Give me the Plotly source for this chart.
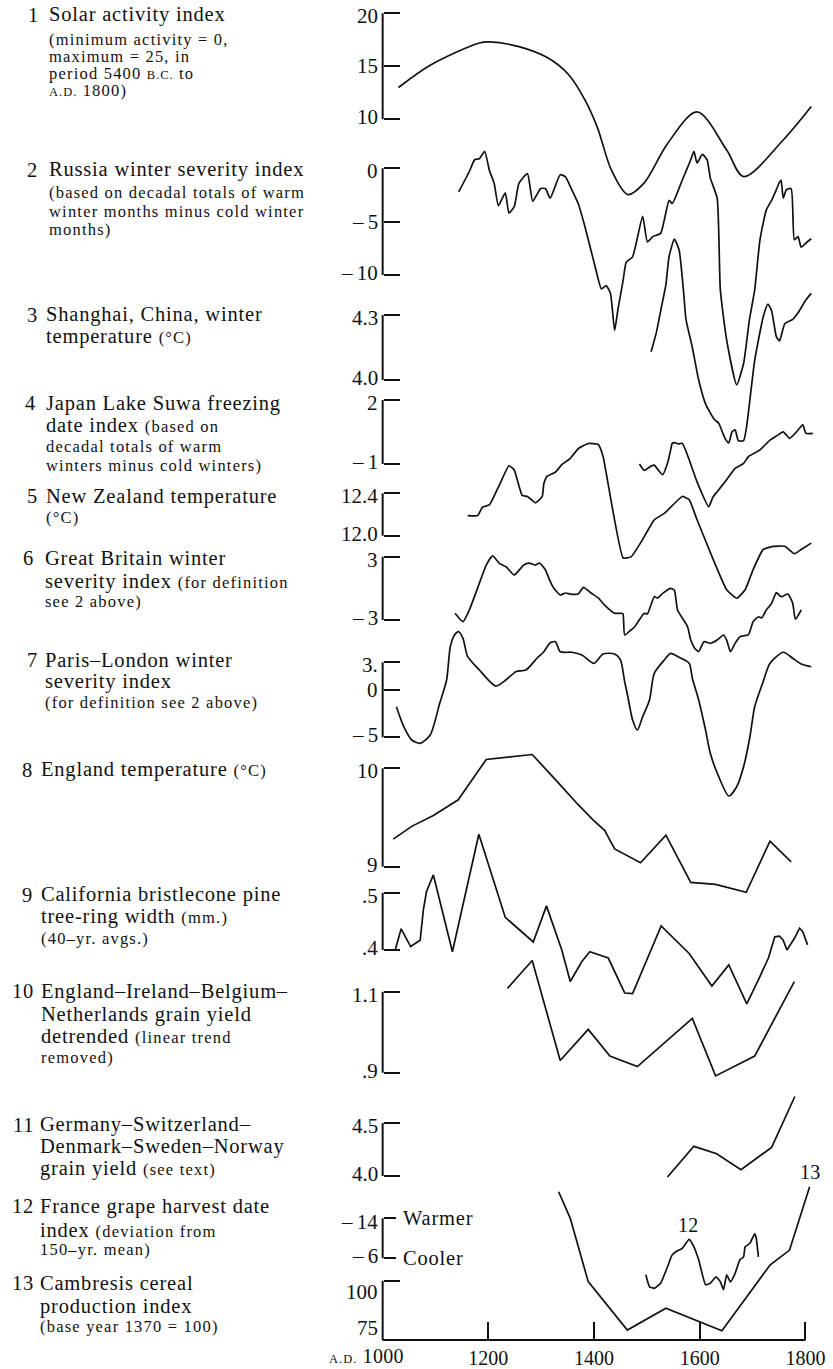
import plotly.graph_objects as go

W, H = 833, 1369
SERIF = "Liberation Serif, Times New Roman, serif"
INK = "#111111"

# ---------------------------------------------------------------- data
# 1 Solar activity index
solar_year = [1030, 1090, 1183, 1202, 1258, 1314, 1352, 1383, 1408, 1414, 1433,
              1464, 1495, 1539, 1595, 1651, 1683, 1758, 1811]
solar_index = [13.0, 15.1, 17.2, 17.3, 16.85, 15.75, 14.2, 11.8, 9.0, 8.05, 5.2,
               2.9, 4.0, 7.7, 10.7, 7.1, 4.6, 8.05, 11.2]
solar_ticks = [10, 15, 20]
solar_ticktext = ["10", "15", "20"]

# 2 Russia winter severity index
russia_year = [1144, 1164, 1174, 1183, 1193, 1202, 1211, 1219, 1232, 1239, 1249, 1258,
               1274, 1284, 1299, 1308, 1317, 1336, 1346, 1355, 1370, 1383, 1402, 1414,
               1423, 1431, 1439, 1445, 1455, 1461, 1473, 1492, 1501, 1511, 1526, 1542,
               1548, 1567, 1583, 1589, 1595, 1605, 1614, 1620, 1633, 1639, 1651, 1670,
               1683, 1694, 1704, 1714, 1726, 1736, 1745, 1751, 1754, 1758, 1764, 1773,
               1779, 1786, 1792, 1801, 1811]
russia_index = [-2.2, -0.3, 0.8, 0.9, 1.6, -0.2, -1.4, -3.5, -2.3, -4.2, -3.6, -1.4,
                -0.5, -3.1, -1.9, -1.9, -2.8, -0.6, -0.8, -1.7, -3.3, -5.5, -9.2, -11.3,
                -11.0, -11.7, -15.2, -13.3, -10.5, -8.8, -8.3, -4.5, -6.9, -6.4, -6.1, -3.0,
                -3.3, -1.1, 0.8, 1.6, 0.5, 1.3, 0.8, -0.9, -2.8, -11.4, -16.1, -20.3,
                -18.3, -14.2, -11.4, -6.7, -3.9, -3.0, -2.0, -1.3, -1.1, -2.8, -2.0, -1.9,
                -6.7, -6.4, -7.4, -7.0, -6.6]
russia_ticks = [-10, -5, 0]
russia_ticktext = ["–\u200910", "–\u20095", "0"]

# 3 Shanghai winter temperature (°C)
shanghai_year = [1508, 1518, 1527, 1536, 1542, 1552, 1561, 1569, 1574, 1586, 1598, 1611,
                 1627, 1636, 1648, 1655, 1661, 1667, 1673, 1683, 1689, 1704, 1720, 1729,
                 1736, 1745, 1751, 1761, 1776, 1786, 1801, 1811]
shanghai_temp = [4.13, 4.22, 4.33, 4.44, 4.57, 4.65, 4.60, 4.42, 4.28, 4.15, 4.00, 3.89,
                 3.82, 3.80, 3.73, 3.71, 3.76, 3.77, 3.72, 3.72, 3.79, 4.09, 4.29, 4.35,
                 4.32, 4.20, 4.18, 4.26, 4.28, 4.31, 4.37, 4.40]
shanghai_ticks = [4.0, 4.3]
shanghai_ticktext = ["4.0", "4.3"]

# 4 Lake Suwa freezing date index
suwa_year = [1486, 1495, 1508, 1514, 1522, 1530, 1539, 1545, 1548, 1552, 1560, 1567,
             1580, 1595, 1617, 1625, 1633, 1648, 1667, 1683, 1692, 1714, 1733, 1745,
             1758, 1770, 1783, 1795, 1801, 1814]
suwa_index = [-1.0, -1.3, -1.1, -1.05, -1.3, -1.5, -0.97, -0.34, -0.03, 0.0, -0.06, -0.03,
              -0.8, -1.84, -3.0, -2.55, -2.3, -1.83, -1.2, -0.97, -0.66, -0.34, 0.12, 0.31,
              0.51, 0.2, 0.5, 0.83, 0.44, 0.44]
suwa_ticks = [-1, 2]
suwa_ticktext = ["–\u20091", "2"]

# 5 New Zealand temperature (°C)
nz_year = [1161, 1180, 1189, 1202, 1221, 1239, 1249, 1264, 1274, 1289, 1302, 1305, 1311,
           1327, 1339, 1355, 1370, 1389, 1408, 1417, 1455, 1470, 1489, 1514, 1533, 1567,
           1580, 1595, 1626, 1651, 1670, 1686, 1701, 1720, 1739, 1761, 1779, 1792, 1811]
nz_temp = [12.19, 12.19, 12.27, 12.29, 12.48, 12.66, 12.62, 12.38, 12.37, 12.31, 12.37,
           12.49, 12.56, 12.60, 12.67, 12.73, 12.82, 12.87, 12.86, 12.75, 11.79, 11.80,
           11.94, 12.15, 12.21, 12.37, 12.34, 12.15, 11.77, 11.49, 11.41, 11.49, 11.68,
           11.87, 11.90, 11.90, 11.83, 11.87, 11.93]
nz_ticks = [12.0, 12.4]
nz_ticktext = ["12.0", "12.4"]

# 6 Great Britain winter severity index
gb_year = [1137, 1152, 1164, 1183, 1196, 1208, 1221, 1234, 1249, 1267, 1277, 1289, 1297,
           1308, 1316, 1324, 1336, 1346, 1355, 1370, 1380, 1395, 1408, 1420, 1439, 1452,
           1455, 1458, 1470, 1477, 1483, 1495, 1501, 1514, 1520, 1530, 1545, 1552, 1558,
           1567, 1577, 1583, 1590, 1598, 1608, 1620, 1633, 1645, 1651, 1658, 1667, 1676,
           1692, 1701, 1711, 1717, 1726, 1736, 1745, 1754, 1767, 1776, 1781, 1792]
gb_index = [-2.36, -3.16, -2.05, 0.48, 2.21, 3.07, 2.37, 2.02, 1.27, 2.21, 2.4, 2.21, 2.4,
            1.74, 0.79, 0.0, -0.63, -0.44, -0.54, -0.54, 0.1, -0.47, -0.91, -1.58, -2.36,
            -2.36, -2.43, -4.42, -3.95, -3.64, -3.19, -2.36, -2.43, -0.79, -0.92, -0.47,
            0.0, -0.16, -2.05, -2.81, -3.64, -4.9, -5.65, -6.0, -5.06, -5.21, -4.9, -4.42,
            -4.9, -6.0, -5.21, -4.58, -4.42, -3.16, -2.69, -2.81, -2.05, -1.42, -0.41,
            -0.79, -0.54, -1.42, -2.93, -2.05]
gb_ticks = [-3, 3]
gb_ticktext = ["–\u20093", "3"]

# 7 Paris-London winter severity index
pl_year = [1026, 1040, 1055, 1071, 1090, 1108, 1121, 1128, 1136, 1144, 1152, 1161, 1183,
           1214, 1233, 1252, 1271, 1292, 1305, 1317, 1327, 1336, 1358, 1377, 1400, 1417,
           1439, 1450, 1458, 1464, 1473, 1482, 1492, 1505, 1514, 1533, 1545, 1561, 1580,
           1586, 1598, 1611, 1620, 1636, 1655, 1670, 1683, 1695, 1704, 1720, 1733, 1758,
           1776, 1792, 1811]
pl_index = [-1.74, -3.87, -5.29, -5.64, -4.75, -1.37, 1.11, 4.66, 5.91, 6.26, 5.56, 3.6,
            2.18, 0.47, 1.11, 2.0, 2.18, 3.43, 4.13, 5.09, 5.2, 4.13, 4.07, 3.78, 2.89,
            3.89, 3.89, 3.25, 0.93, -0.67, -3.15, -4.22, -2.8, -1.02, 1.83, 3.25, 3.96,
            3.53, 2.89, 1.29, -1.02, -4.22, -6.71, -9.2, -11.26, -10.27, -8.14, -4.94,
            -1.74, 0.93, 2.89, 4.07, 3.43, 2.82, 2.53]
pl_ticks = [-5, 0, 3]
pl_ticktext = ["–\u20095", "0", "3."]

# 8 England temperature (°C)
eng_year = [1020, 1055, 1096, 1143, 1196, 1283, 1333, 1370, 1399, 1420, 1439, 1488, 1536,
            1583, 1630, 1688, 1733, 1773]
eng_temp = [9.28, 9.41, 9.52, 9.68, 10.09, 10.14, 9.85, 9.63, 9.47, 9.37, 9.18, 9.04, 9.32,
            8.84, 8.82, 8.74, 9.26, 9.05]
eng_ticks = [9, 10]
eng_ticktext = ["9", "10"]

# 9 California bristlecone pine tree-ring width (mm)
pine_year = [1024, 1035, 1053, 1071, 1077, 1083, 1096, 1132, 1182, 1232, 1285, 1310, 1339,
             1355, 1377, 1392, 1427, 1458, 1473, 1527, 1580, 1623, 1655, 1689, 1711, 1730,
             1742, 1751, 1758, 1765, 1779, 1789, 1795, 1804]
pine_width = [0.401, 0.437, 0.406, 0.417, 0.47, 0.502, 0.531, 0.397, 0.602, 0.457, 0.414,
              0.477, 0.4, 0.345, 0.38, 0.397, 0.386, 0.325, 0.324, 0.442, 0.394, 0.337,
              0.374, 0.306, 0.348, 0.386, 0.423, 0.424, 0.417, 0.4, 0.42, 0.438, 0.432,
              0.409]
pine_ticks = [0.4, 0.5]
pine_ticktext = [".4", ".5"]

# 10 England-Ireland-Belgium-Netherlands grain yield, detrended
eibn_year = [1236, 1283, 1336, 1389, 1430, 1482, 1586, 1630, 1704, 1779]
eibn_yield = [1.108, 1.177, 0.930, 1.007, 0.941, 0.915, 1.034, 0.892, 0.941, 1.125]
eibn_ticks = [0.9, 1.1]
eibn_ticktext = [".9", "1.1"]

# 11 Germany-Switzerland-Denmark-Sweden-Norway grain yield
gsdsn_year = [1539, 1589, 1632, 1678, 1736, 1780]
gsdsn_yield = [3.99, 4.28, 4.21, 4.06, 4.27, 4.75]
gsdsn_ticks = [4.0, 4.5]
gsdsn_ticktext = ["4.0", "4.5"]

# 12 France grape harvest date index
grape_year = [1498, 1505, 1514, 1526, 1539, 1548, 1558, 1567, 1580, 1589, 1598, 1611, 1620,
              1631, 1639, 1645, 1651, 1658, 1667, 1676, 1683, 1686, 1695, 1704, 1707, 1711]
grape_index = [-2.7, -0.3, 0.0, -1.0, -4.3, -6.7, -7.5, -8.0, -9.8, -8.3, -5.7, -0.7, -1.0,
               -2.3, -1.3, 0.3, -2.7, -1.3, -3.0, -5.7, -6.3, -8.3, -9.0, -10.9, -10.0, -6.3]
grape_ticks = [-14, -6]
grape_ticktext = ["–\u200914", "–\u20096"]

# 13 Cambresis cereal production index
camb_year = [1333, 1355, 1389, 1463, 1536, 1642, 1733, 1770, 1808]
camb_index = [137.5, 126.3, 99.6, 79.2, 88.4, 78.9, 106.6, 112.9, 139.6]
camb_ticks = [75, 100]
camb_ticktext = ["75", "100"]

time_ticks = [1200, 1400, 1600, 1800]

# ---------------------------------------------------------------- geometry
PX_1000, PX_1800 = 384.5, 809.3          # pixel columns of A.D. 1000 and 1800
PPY = (PX_1800 - PX_1000) / 800.0
X_RANGE = [985, 1830]
x_domain = [(PX_1000 + (X_RANGE[0] - 1000) * PPY) / W,
            (PX_1000 + (X_RANGE[1] - 1000) * PPY) / W]
AXIS_ROW = 1340.0                       # pixel row of the time axis


def y_range(v_top, px_top, v_bot, px_bot):
    """Axis range that puts two values on the given pixel rows (full-height domain)."""
    f_top, f_bot = 1 - px_top / H, 1 - px_bot / H
    slope = (v_top - v_bot) / (f_top - f_bot)
    lo = v_top - slope * f_top
    return [lo, lo + slope]


# each panel: data, bracket ends (value, pixel row), ticks, label nudges, line style
panels = [
    dict(x=solar_year, y=solar_index, top=(20, 13.3), bot=(10, 119.3),
         tv=solar_ticks, tt=solar_ticktext, shape="spline", sm=0.9),
    dict(x=russia_year, y=russia_index, top=(0, 168.3), bot=(-10, 275.0),
         tv=russia_ticks, tt=russia_ticktext, shape="spline", sm=0.5),
    dict(x=shanghai_year, y=shanghai_temp, top=(4.3, 315.0), bot=(4.0, 380.0),
         tv=shanghai_ticks, tt=shanghai_ticktext, shape="spline", sm=0.5),
    dict(x=suwa_year, y=suwa_index, top=(2, 400.0), bot=(-1, 464.0),
         tv=suwa_ticks, tt=suwa_ticktext, shape="spline", sm=0.5),
    dict(x=nz_year, y=nz_temp, top=(12.4, 493.3), bot=(12.0, 535.7),
         tv=nz_ticks, tt=nz_ticktext, shape="spline", sm=0.4),
    dict(x=gb_year, y=gb_index, top=(3, 556.7), bot=(-3, 620.0),
         tv=gb_ticks, tt=gb_ticktext, shape="spline", sm=0.5),
    dict(x=pl_year, y=pl_index, top=(3, 662.3), bot=(-5, 737.3),
         tv=pl_ticks, tt=pl_ticktext, shape="spline", sm=0.7),
    dict(x=eng_year, y=eng_temp, top=(10, 768.3), bot=(9, 866.7),
         tv=eng_ticks, tt=eng_ticktext, shape="linear", sm=0),
    dict(x=pine_year, y=pine_width, top=(0.5, 892.7), bot=(0.4, 950.0),
         tv=pine_ticks, tt=pine_ticktext, shape="linear", sm=0),
    dict(x=eibn_year, y=eibn_yield, top=(1.1, 991.7), bot=(0.9, 1072.7),
         tv=eibn_ticks, tt=eibn_ticktext, shape="linear", sm=0),
    dict(x=gsdsn_year, y=gsdsn_yield, top=(4.5, 1123.0), bot=(4.0, 1176.0),
         tv=gsdsn_ticks, tt=gsdsn_ticktext, shape="linear", sm=0),
    dict(x=grape_year, y=grape_index, top=(-14, 1218.3), bot=(-6, 1258.3),
         tv=grape_ticks, tt=grape_ticktext, shape="spline", sm=0.4, ticklen=12,
         nudge=(-4, 2)),
    # labels of the last bracket sit well inside it
    dict(x=camb_year, y=camb_index, top=(100, 1280.7), bot=(75, AXIS_ROW),
         tv=camb_ticks, tt=camb_ticktext, shape="linear", sm=0, nudge=(-11, 12)),
]

NUM_STYLE = dict(family=SERIF, size=21, color=INK)

fig = go.Figure()
axes = {}
shapes = []
annotations = []
for i, p in enumerate(panels, start=1):
    ref = "y" if i == 1 else f"y{i}"
    fig.add_trace(go.Scatter(
        x=p["x"], y=p["y"], mode="lines", yaxis=ref, xaxis="x",
        line=dict(color=INK, width=1.7, shape=p["shape"],
                  **({"smoothing": p["sm"]} if p["shape"] == "spline" else {})),
        hoverinfo="skip", showlegend=False))
    ax = dict(range=y_range(p["top"][0], p["top"][1], p["bot"][0], p["bot"][1]),
              domain=[0, 1], anchor="free", position=PX_1000 / W, side="left",
              showgrid=False, zeroline=False, showline=False,
              ticks="inside", ticklen=p.get("ticklen", 16), tickwidth=2, tickcolor=INK,
              tickvals=p["tv"], showticklabels=False, fixedrange=True)
    if i > 1:
        ax["overlaying"] = "y"
    axes["yaxis" if i == 1 else f"yaxis{i}"] = ax
    # vertical spine of the bracket
    shapes.append(dict(type="line", xref="x", yref=ref, x0=1000, x1=1000,
                       y0=p["top"][0], y1=p["bot"][0], line=dict(color=INK, width=2)))
    # bracket value labels; end labels lean slightly into the bracket
    up, down = p.get("nudge", (-3, 2))
    for v, t in zip(p["tv"], p["tt"]):
        shift = up if v == p["top"][0] else (down if v == p["bot"][0] else 0)
        annotations.append(dict(xref="x", yref=ref, x=1000, y=v, xanchor="right",
                                yanchor="middle", xshift=-5, yshift=shift, text=t,
                                showarrow=False, borderpad=0, borderwidth=0,
                                font=NUM_STYLE))

# time axis baseline, drawn along the bottom of panel 13
shapes.append(dict(type="line", xref="x", yref="y13", x0=1000, x1=1800, y0=75, y1=75,
                   line=dict(color=INK, width=2)))

# ---------------------------------------------------------------- captions
# text styles: (font size, letter spacing)
STYLE = {"B": (20.5, 0.8), "S": (16.5, 1.2), "C": (12.5, 1.0), "N": (20, 0.3)}


def rich(segments):
    out = []
    for s, k in segments:
        size, ls = STYLE[k]
        out.append(f'<span style="font-size:{size}px;letter-spacing:{ls}px">{s}</span>')
    return "".join(out)


captions = [
    ("1", 28, 49, [(21.7, [("Solar activity index", "B")]),
                   (45.0, [("(minimum activity = 0,", "S")]),
                   (62.0, [("maximum = 25, in", "S")]),
                   (79.0, [("period 5400 ", "S"), ("B.C.", "C"), (" to", "S")]),
                   (96.5, [("A.D.", "C"), (" 1800)", "S")])]),
    ("2", 27, 49, [(176.7, [("Russia winter severity index", "B")]),
                   (197.7, [("(based on decadal totals of warm", "S")]),
                   (216.7, [("winter months minus cold winter", "S")]),
                   (235.0, [("months)", "S")])]),
    ("3", 27, 46.7, [(321.7, [("Shanghai, China, winter", "B")]),
                     (343.3, [("temperature ", "B"), ("(°C)", "S")])]),
    ("4", 25, 46.7, [(410.0, [("Japan Lake Suwa freezing", "B")]),
                     (431.7, [("date index ", "B"), ("(based on", "S")]),
                     (451.7, [("decadal totals of warm", "S")]),
                     (471.0, [("winters minus cold winters)", "S")])]),
    ("5", 27, 46.7, [(503.3, [("New Zealand temperature", "B")]),
                     (523.3, [("(°C)", "S")])]),
    ("6", 23.3, 45, [(565.0, [("Great Britain winter", "B")]),
                     (588.3, [("severity index ", "B"), ("(for definition", "S")]),
                     (607.3, [("see 2 above)", "S")])]),
    ("7", 26.7, 45.7, [(666.7, [("Paris–London winter", "B")]),
                       (688.3, [("severity index", "B")]),
                       (708.3, [("(for definition see 2 above)", "S")])]),
    ("8", 21.7, 41.7, [(776.7, [("England temperature ", "B"), ("(°C)", "S")])]),
    ("9", 21.7, 41.7, [(901.7, [("California bristlecone pine", "B")]),
                       (923.3, [("tree-ring width ", "B"), ("(mm.)", "S")]),
                       (944.0, [("(40–yr. avgs.)", "S")])]),
    ("10", 11.7, 41.7, [(998.3, [("England–Ireland–Belgium–", "B")]),
                        (1021.7, [("Netherlands grain yield", "B")]),
                        (1043.3, [("detrended ", "B"), ("(linear trend", "S")]),
                        (1063.3, [("removed)", "S")])]),
    ("11", 13, 40, [(1131.7, [("Germany–Switzerland–", "B")]),
                    (1153.3, [("Denmark–Sweden–Norway", "B")]),
                    (1175.0, [("grain yield ", "B"), ("(see text)", "S")])]),
    ("12", 11.7, 40, [(1213.3, [("France grape harvest date", "B")]),
                      (1236.7, [("index ", "B"), ("(deviation from", "S")]),
                      (1255.0, [("150–yr. mean)", "S")])]),
    ("13", 11.7, 40, [(1290.0, [("Cambresis cereal", "B")]),
                      (1313.3, [("production index", "B")]),
                      (1331.7, [("(base year 1370 = 100)", "S")])]),
]


def text_at(x_px, base_px, segments):
    size = max(STYLE[k][0] for _, k in segments)
    return dict(xref="paper", yref="paper", x=x_px / W, y=1 - (base_px - 0.34 * size) / H,
                xanchor="left", yanchor="middle", text=rich(segments), showarrow=False,
                borderpad=0, borderwidth=0,
                font=dict(family=SERIF, size=size, color=INK))


for num, x_num, x_txt, lines in captions:
    annotations.append(text_at(x_num, lines[0][0], [(num, "B")]))
    for base, segs in lines:
        annotations.append(text_at(x_txt, base, segs))


def tag(xref, yref, x, y, segs, xanchor="center", xshift=0, yshift=0, size=21):
    return dict(xref=xref, yref=yref, x=x, y=y, xanchor=xanchor, yanchor="middle",
                xshift=xshift, yshift=yshift, text=rich(segs), showarrow=False,
                borderpad=0, borderwidth=0, font=dict(family=SERIF, size=size, color=INK))


annotations += [
    # grape-harvest bracket words
    tag("x", "y12", 1000, -14, [("Warmer", "B")], xanchor="left", xshift=20),
    tag("x", "y12", 1000, -6, [("Cooler", "B")], xanchor="left", xshift=20),
    # series tags next to curves 12 and 13
    tag("x", "y12", 1579, -12.7, [("12", "N")]),
    tag("x", "y13", 1809, 145.8, [("13", "N")]),
    # first label on the time axis
    dict(xref="x", yref="paper", x=1000, y=1 - 1356 / H, xanchor="right", yanchor="middle",
         xshift=21, showarrow=False, borderpad=0, borderwidth=0,
         text=rich([("A.D.", "C"), (" 1000", "N")]),
         font=dict(family=SERIF, size=20, color=INK)),
]

fig.update_layout(
    width=W, height=H,
    margin=dict(l=0, r=0, t=0, b=0),
    paper_bgcolor="white", plot_bgcolor="rgba(0,0,0,0)",
    showlegend=False,
    xaxis=dict(domain=x_domain, range=X_RANGE, anchor="free", position=1 - AXIS_ROW / H,
               showgrid=False, zeroline=False, showline=False,
               ticks="inside", ticklen=18, tickwidth=2, tickcolor=INK,
               tickvals=time_ticks, ticklabelstandoff=4,
               tickfont=dict(family=SERIF, size=20, color=INK), fixedrange=True),
    shapes=shapes,
    annotations=annotations,
    **axes,
)

fig.write_html("out.html")
